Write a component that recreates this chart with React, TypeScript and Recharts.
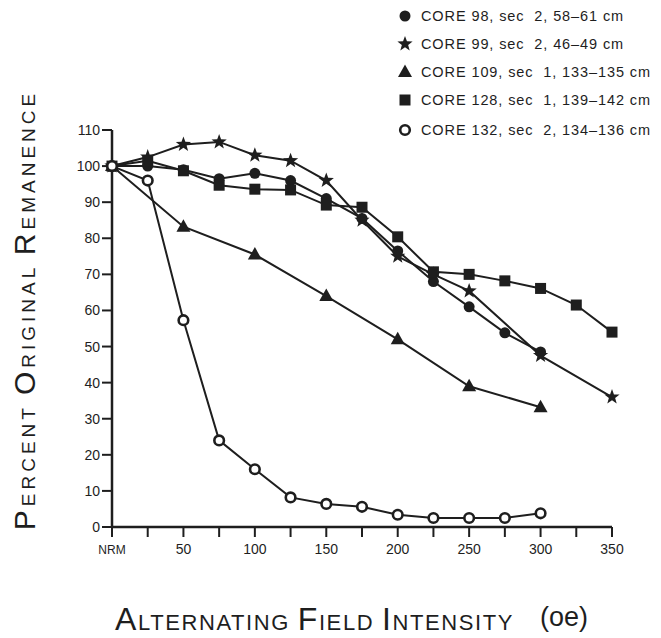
import React from 'react';
import { LineChart, Line, XAxis, YAxis, Legend } from 'recharts';

const fieldSteps = [0, 25, 50, 75, 100, 125, 150, 175, 200, 225, 250, 275, 300, 325, 350];
const core98 = [100, 100, 99, 96.5, 98, 96, 91, 85.5, 76.5, 68, 61, 53.8, 48.5, null, null];
const core99 = [100, 102.5, 106, 106.7, 103, 101.5, 96, 85, 75, 70, 65.4, null, 47.5, null, 36];
const core109 = [100, null, 83.2, null, 75.5, null, 64, null, 52, null, 39, null, 33.2, null, null];
const core128 = [100, 101.5, 98.7, 94.7, 93.6, 93.4, 89.2, 88.6, 80.4, 70.7, 70, 68.2, 66.1, 61.5, 54];
const core132 = [100, 96, 57.3, 24, 16, 8.2, 6.4, 5.6, 3.4, 2.5, 2.5, 2.5, 3.8, null, null];
const yTicks = [0, 10, 20, 30, 40, 50, 60, 70, 80, 90, 100, 110];

const series = [
  { key: 'c98', name: 'CORE 98, sec  2, 58\u201361 cm', values: core98, shape: 'circle' },
  { key: 'c99', name: 'CORE 99, sec  2, 46\u201349 cm', values: core99, shape: 'star' },
  { key: 'c109', name: 'CORE 109, sec  1, 133\u2013135 cm', values: core109, shape: 'triangle' },
  { key: 'c128', name: 'CORE 128, sec  1, 139\u2013142 cm', values: core128, shape: 'square' },
  { key: 'c132', name: 'CORE 132, sec  2, 134\u2013136 cm', values: core132, shape: 'open' },
];

const data = fieldSteps.map((f, i) => {
  const row: any = { field: f };
  series.forEach(s => { row[s.key] = s.values[i]; });
  return row;
});

const INK = '#1e1e1e';
const FONT = '"Liberation Sans", Arial, sans-serif';

function Marker({ shape, cx, cy }: { shape: string; cx: number; cy: number }) {
  if (shape === 'circle') return <circle cx={cx} cy={cy} r={5.5} fill={INK} />;
  if (shape === 'square') return <rect x={cx - 5.5} y={cy - 5.5} width={11} height={11} fill={INK} />;
  if (shape === 'triangle') return <path d={`M${cx},${cy - 7.5} L${cx + 7},${cy + 5} L${cx - 7},${cy + 5} Z`} fill={INK} />;
  if (shape === 'open') return <circle cx={cx} cy={cy} r={4.8} fill="#fff" stroke={INK} strokeWidth={2.6} />;
  const pts: string[] = [];
  for (let k = 0; k < 10; k++) {
    const r = k % 2 === 0 ? 8 : 3.3;
    const a = -Math.PI / 2 + (k * Math.PI) / 5;
    pts.push(`${cx + r * Math.cos(a)},${cy + r * Math.sin(a)}`);
  }
  return <polygon points={pts.join(' ')} fill={INK} />;
}

function makeDot(shape: string) {
  return (p: any) => {
    if (p.cx == null || p.cy == null || p.value == null) return <g key={`${shape}-${p.index}`} />;
    return <g key={`${shape}-${p.index}`}><Marker shape={shape} cx={p.cx} cy={p.cy} /></g>;
  };
}

function XTick({ x, y, payload }: any) {
  const v = payload.value;
  const label = v === 0 ? 'NRM' : v % 50 === 0 ? String(v) : '';
  return (
    <text x={x} y={y + 15} textAnchor="middle" fontSize={v === 0 ? 12 : 14} fontFamily={FONT} fill={INK}>{label}</text>
  );
}

function LegendBox() {
  return (
    <div style={{ fontFamily: FONT, fontSize: 14.5, letterSpacing: 0.9, color: INK, whiteSpace: 'nowrap' }}>
      {series.map((s, i) => (
        <div key={s.key} style={{ display: 'flex', alignItems: 'center', height: 28, marginTop: i === 4 ? 2 : 0 }}>
          <svg width={20} height={18} style={{ marginRight: 6 }}>
            <Marker shape={s.shape} cx={10} cy={9} />
          </svg>
          <span style={{ whiteSpace: 'pre' }}>{s.name}</span>
        </div>
      ))}
    </div>
  );
}

// x title: small caps made from two sizes
function XTitle({ viewBox }: any) {
  const y = viewBox.y + 103;
  return (
    <g fontFamily={FONT} fill={INK}>
      <text x={viewBox.x + 3} y={y} letterSpacing={1.6}>
        <tspan fontSize={32}>A</tspan><tspan fontSize={22}>LTERNATING </tspan>
        <tspan fontSize={32}>F</tspan><tspan fontSize={22}>IELD </tspan>
        <tspan fontSize={32}>I</tspan><tspan fontSize={22}>NTENSITY</tspan>
      </text>
      <text x={viewBox.x + viewBox.width - 24} y={y - 4} fontSize={27} textAnchor="end">(oe)</text>
    </g>
  );
}

function YTitle() {
  const x = 27;
  const y = 302;
  return (
    <text x={x} y={y} transform={`rotate(-90 ${x} ${y})`} textAnchor="middle" fontFamily={FONT} fill={INK} letterSpacing={4}>
      <tspan fontSize={30}>P</tspan><tspan fontSize={19}>ERCENT </tspan>
      <tspan fontSize={30}>O</tspan><tspan fontSize={19}>RIGINAL </tspan>
      <tspan fontSize={30}>R</tspan><tspan fontSize={19}>EMANENCE</tspan>
    </text>
  );
}

export default function App() {
  return (
    <LineChart width={653} height={630} data={data} margin={{ top: 122, right: 49, bottom: 81, left: 44 }}>
      <XAxis dataKey="field" type="number" domain={[0, 350]} ticks={fieldSteps} interval={0}
        tick={<XTick />} tickSize={10} axisLine={{ stroke: INK, strokeWidth: 2.5 }}
        tickLine={{ stroke: INK, strokeWidth: 2 }} height={30} label={<XTitle />} />
      <YAxis type="number" domain={[0, 110]} ticks={yTicks} interval={0} width={60} tickSize={10}
        tick={{ fill: INK, fontSize: 14, fontFamily: FONT }}
        axisLine={{ stroke: INK, strokeWidth: 2.5 }} tickLine={{ stroke: INK, strokeWidth: 2 }}
        label={<YTitle />} />
      <Legend layout="vertical" align="center" verticalAlign="middle" content={<LegendBox />}
        wrapperStyle={{ position: 'absolute', top: -6, left: 387, width: 262 }} />
      {series.map(s => (
        <Line key={s.key} dataKey={s.key} name={s.name} stroke={INK} strokeWidth={2} connectNulls
          dot={makeDot(s.shape)} activeDot={false} isAnimationActive={false} />
      ))}
    </LineChart>
  );
}
